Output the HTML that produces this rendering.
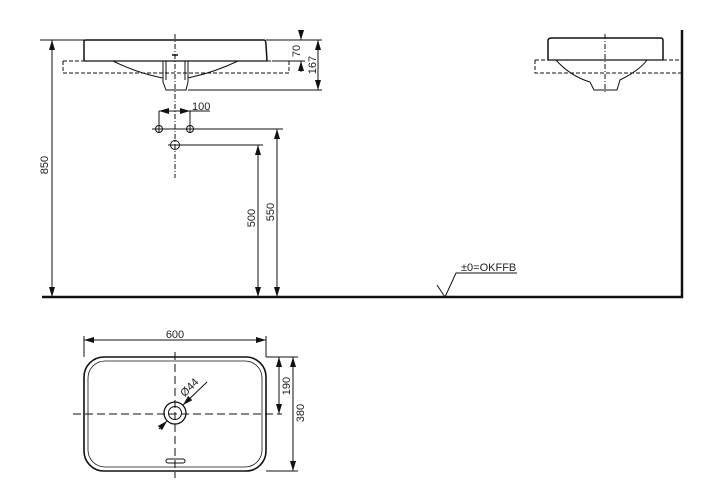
<!DOCTYPE html>
<html><head><meta charset="utf-8"><style>
html,body{margin:0;padding:0;background:#fff;width:726px;height:501px;overflow:hidden}
svg{display:block}
text{font-family:"Liberation Sans",sans-serif;font-size:11px;fill:#222}
</style></head><body>
<svg width="726" height="501" viewBox="0 0 726 501" xmlns="http://www.w3.org/2000/svg">
<defs>
<marker id="a" viewBox="0 0 10 6" refX="10" refY="3" markerWidth="10" markerHeight="6" orient="auto-start-reverse" markerUnits="userSpaceOnUse"><path d="M0,0L10,3L0,6z" fill="#111"/></marker>
</defs>
<g stroke="#111" fill="none" stroke-width="1">
<path d="M84,61 L84,41 Q84,40 86,40 L264,40 Q266,40 266,45 L267,61" stroke-width="1.5"/>
<line x1="84" y1="61" x2="267" y2="61" stroke-width="1.3"/>
<path d="M63,61 L63,73 L289,73 L289,61" stroke-dasharray="4,2"/>
<line x1="63" y1="61" x2="84" y2="61" stroke-dasharray="4,2"/>
<line x1="267" y1="61" x2="289" y2="61" stroke-dasharray="4,2"/>
<path d="M113,61 Q135,72 158,77 L163,78"/>
<path d="M238,61 Q215,72 192,77 L188,78"/>
<path d="M163,61 L163,82 L166,90 L186,90 L188,82 L188,61"/>
<path d="M166,61 L166,80 M185,61 L185,80"/>
<line x1="175" y1="34" x2="175" y2="178" stroke-dasharray="5,2,1,2"/>
<line x1="172" y1="55" x2="178" y2="55" stroke-width="1.5"/>
<line x1="266" y1="40" x2="322" y2="40"/>
<line x1="188" y1="90" x2="322" y2="90"/>
<line x1="272" y1="61" x2="305" y2="61"/>
<line x1="301" y1="30" x2="301" y2="40" marker-end="url(#a)"/>
<line x1="301" y1="72" x2="301" y2="61" marker-end="url(#a)"/>
<line x1="318" y1="40" x2="318" y2="90" marker-start="url(#a)" marker-end="url(#a)"/>
<line x1="40" y1="40" x2="84" y2="40"/>
<line x1="52" y1="40" x2="52" y2="297" marker-start="url(#a)" marker-end="url(#a)"/>
<line x1="159" y1="111" x2="159" y2="133"/>
<line x1="190" y1="111" x2="190" y2="133"/>
<line x1="159" y1="111" x2="190" y2="111" marker-start="url(#a)" marker-end="url(#a)"/>
<line x1="190" y1="111" x2="210" y2="111"/>
<circle cx="159" cy="129" r="3.5"/>
<circle cx="190" cy="129" r="3.5"/>
<line x1="152" y1="129" x2="283" y2="129"/>
<circle cx="175" cy="145" r="4.5"/>
<line x1="168" y1="145" x2="263" y2="145"/>
<line x1="258" y1="145" x2="258" y2="297" marker-start="url(#a)" marker-end="url(#a)"/>
<line x1="277" y1="129" x2="277" y2="297" marker-start="url(#a)" marker-end="url(#a)"/>
<line x1="42" y1="297" x2="683" y2="297" stroke-width="2.5"/>
<line x1="682" y1="30" x2="682" y2="298" stroke-width="2.5"/>
<path d="M437,285 L445,297 L456,273 L517,273"/>
<path d="M548,60 L548,41 Q548,38 551,38 L661,38 Q663,38 663,41 L663,60" stroke-width="1.5"/>
<line x1="548" y1="60" x2="663" y2="60" stroke-width="1.3"/>
<path d="M535,60 L535,73 L682,73 M535,60 L548,60 M663,60 L682,60" stroke-dasharray="4,2"/>
<path d="M556,60 Q570,76 590,82 L594,90 L617,90 L620,80 Q640,70 647,60"/>
<line x1="605" y1="34" x2="605" y2="94" stroke-dasharray="5,2,1,2"/>
<rect x="84" y="357" width="182" height="114" rx="20" stroke-width="1.6"/>
<rect x="88" y="361" width="174" height="106" rx="17" stroke-width="0.8"/>
<line x1="84" y1="336" x2="84" y2="357"/>
<line x1="266" y1="336" x2="266" y2="357"/>
<line x1="84" y1="340" x2="266" y2="340" marker-start="url(#a)" marker-end="url(#a)"/>
<line x1="266" y1="357" x2="298" y2="357"/>
<line x1="266" y1="471" x2="298" y2="471"/>
<line x1="279" y1="357" x2="279" y2="414" marker-start="url(#a)" marker-end="url(#a)"/>
<line x1="293" y1="357" x2="293" y2="471" marker-start="url(#a)" marker-end="url(#a)"/>
<line x1="73" y1="414" x2="282" y2="414" stroke-dasharray="8,4"/>
<line x1="175" y1="352" x2="175" y2="478" stroke-dasharray="8,4"/>
<circle cx="175" cy="413" r="11" stroke-width="1.3"/>
<circle cx="175" cy="413" r="6.5"/>
<rect x="166" y="459" width="19" height="4" rx="2"/>
<line x1="159" y1="429" x2="167" y2="421" marker-end="url(#a)"/>
<line x1="207" y1="382" x2="183" y2="405" marker-end="url(#a)"/>
</g>
<text x="300" y="51" transform="rotate(-90 300 51)" text-anchor="middle">70</text>
<text x="316" y="65" transform="rotate(-90 316 65)" text-anchor="middle">167</text>
<text x="48" y="165" transform="rotate(-90 48 165)" text-anchor="middle">850</text>
<text x="255" y="218" transform="rotate(-90 255 218)" text-anchor="middle">500</text>
<text x="274" y="212" transform="rotate(-90 274 212)" text-anchor="middle">550</text>
<text x="192" y="110">100</text>
<text x="461" y="271">±0=OKFFB</text>
<text x="175" y="338" text-anchor="middle">600</text>
<text x="290" y="386" transform="rotate(-90 290 386)" text-anchor="middle">190</text>
<text x="304" y="413" transform="rotate(-90 304 413)" text-anchor="middle">380</text>
<text x="192" y="390" transform="rotate(-45 192 390)" text-anchor="middle">Ø44</text>
</svg>
</body></html>
